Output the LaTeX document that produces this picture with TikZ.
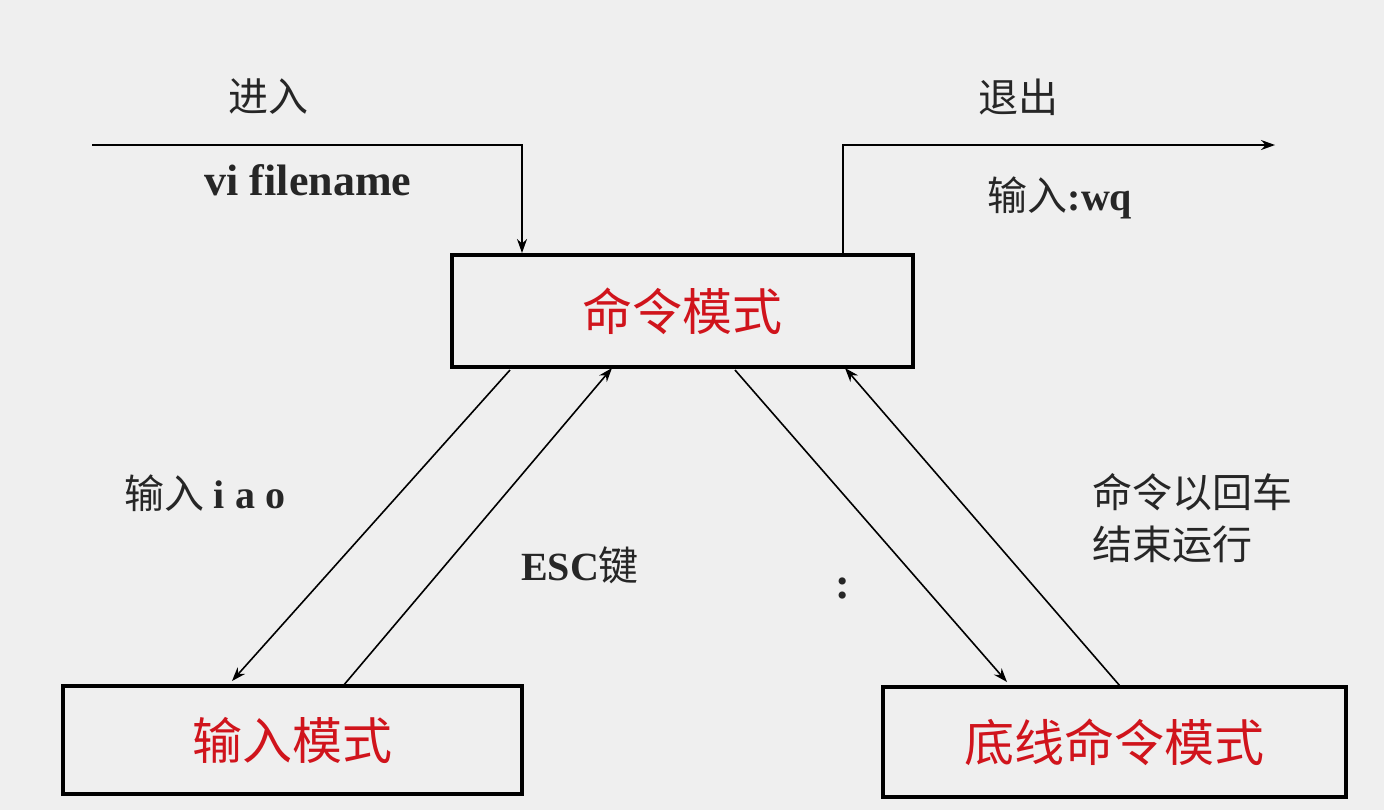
\documentclass[tikz,border=0pt]{standalone}
\usepackage{fontspec}
\setmainfont{Liberation Serif}
\newfontfamily\cjk{Noto Sans CJK SC}
\newfontfamily\lat{Liberation Serif}
\usetikzlibrary{arrows.meta}
\definecolor{bg}{HTML}{EFEFEF}
\definecolor{lab}{HTML}{D0141C}
\newcommand{\bl}[1]{{\lat\bfseries #1}}
\begin{document}
\begin{tikzpicture}[x=0.5pt,y=-0.5pt,
  modebox/.style={draw=black,line width=2pt,fill=bg,inner sep=0pt,font=\cjk\fontsize{25}{29}\selectfont,text=lab},
  conn/.style={line width=0.8pt,-{Stealth[length=7pt,width=5pt]}},
  lbl/.style={font=\cjk\fontsize{20}{26}\selectfont,text=black!85},
  blbl/.style={font=\lat\bfseries\fontsize{22}{26}\selectfont,text=black!85}]
\fill[bg] (0,0) rectangle (1384,810);
\useasboundingbox (0,0) rectangle (1384,810);
\node[modebox,minimum width=230.5pt,minimum height=56pt] (cmd) at (682.5,311) {命令模式};
\node[modebox,minimum width=229.5pt,minimum height=54pt] (inp) at (292.5,740) {输入模式};
\node[modebox,minimum width=231.5pt,minimum height=55pt] (bot) at (1114.5,742) {底线命令模式};
\coordinate (s1) at (92,145);
\coordinate (c1) at (522,145);
\coordinate (e1) at (522,253);
\coordinate (e2) at (1275,145);
\coordinate (c2) at (843,145);
\coordinate (s2) at (843,253);
\draw[conn] (s1) -- (c1) -- (e1);
\draw[conn] (s2) -- (c2) -- (e2);
\draw[conn] (510,370) -- (232,681);
\draw[conn] (343,686) -- (612,368);
\draw[conn] (735,370) -- (1007,682);
\draw[conn] (1120,686) -- (845,368);
\node[lbl] (t1) at (268,97) {进入};
\node[blbl] (t2) at (308,180) {vi filename};
\node[lbl] (t3) at (1018,97) {退出};
\node[lbl] (t4) at (1060,198) {输入\bl{:wq}};
\node[lbl] (t5) at (205,493) {输入 \bl{i a o}};
\node[lbl] (t6) at (580,565) {\bl{ESC}键};
\node[blbl] (t7) at (843,588) {:};
\node[lbl,align=left] (t8) at (1192,518) {命令以回车\\结束运行};
\end{tikzpicture}
\end{document}
